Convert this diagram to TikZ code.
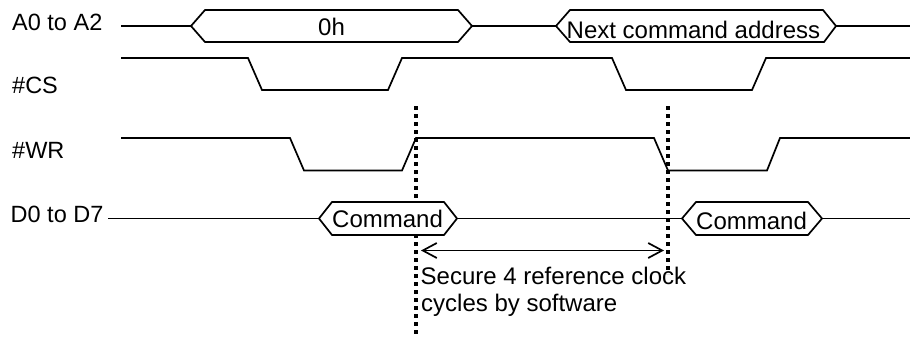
\documentclass[tikz,border=0pt]{standalone}
\usepackage{fontspec}
\setmainfont{Liberation Sans}
\usetikzlibrary{arrows.meta}
\tikzset{
  signal/.style={line width=1.7pt,line join=miter},
  busbox/.style={line width=1.7pt,fill=white},
  marker/.style={line width=4pt,dash pattern=on 4pt off 4pt},
  sigtext/.style={anchor=base west,inner sep=0pt,font=\fontsize{23.5pt}{28pt}\selectfont},
  bustext/.style={anchor=base west,inner sep=0pt,font=\fontsize{24pt}{28pt}\selectfont}
}
\begin{document}
\begin{tikzpicture}[x=1pt,y=-1pt]
        \useasboundingbox (0,0) rectangle (910,337);

        % timing markers
        \coordinate (markA top) at (416,106);
        \coordinate (markA bot) at (416,334);
        \coordinate (markB top) at (668,106);
        \coordinate (markB bot) at (668,274);
        \draw[marker] (markA top) -- (markA bot);
        \draw[marker] (markB top) -- (markB bot);

        % A0 to A2
        \draw[signal] (121,26) -- (191,26);
        \draw[signal] (472,26) -- (556,26);
        \draw[signal] (836,26) -- (910,26);
        \draw[busbox] (191,26) -- (205,10) -- (458,10) -- (472,26) -- (458,42) -- (205,42) -- cycle;
        \draw[busbox] (556,26) -- (570,10) -- (823,10) -- (836,26) -- (824,42) -- (570,42) -- cycle;

        % #CS
        \draw[signal] (121,58) -- (248,58) -- (262,90) -- (388,90) -- (402,58) -- (612,58)
          -- (626,90) -- (752,90) -- (766,58) -- (910,58);

        % #WR
        \draw[signal] (121,138) -- (290,138) -- (304,170.5) -- (402,170.5) -- (416,138) -- (654,138)
          -- (668,170.5) -- (767,170.5) -- (780,138) -- (910,138);

        % D0 to D7
        \draw[signal] (108,218.5) -- (910,218.5);
        \draw[busbox] (319,218.5) -- (332,202) -- (444,202) -- (457,218.5) -- (444,235) -- (332,235) -- cycle;
        \draw[busbox] (682,218.5) -- (696,202) -- (808,202) -- (822,218.5) -- (808,235) -- (696,235) -- cycle;

        % signal names
        \node[sigtext] (nameA) at (12,30.5) {A0 to A2};
        \node[sigtext] (nameCS) at (12,93) {\#CS};
        \node[sigtext] (nameWR) at (12,158) {\#WR};
        \node[sigtext] (nameD) at (10.5,222) {D0 to D7};

        % bus values
        \node[bustext] (addrA) at (318,35.5) {0h};
        \node[bustext] (addrB) at (566.5,39) {Next command address};
        \node[bustext] (cmdA) at (332,227.5) {Command};
        \node[bustext] (cmdB) at (696,229) {Command};

        % interval
        \coordinate (spanA) at (421,250.5);
        \coordinate (spanB) at (664,250.5);
        \draw[signal,{Straight Barb[length=14pt,width=15pt]}-{Straight Barb[length=14pt,width=15pt]}] (spanA) -- (spanB);
        \node[bustext] (noteA) at (420.5,284.5) {Secure 4 reference clock};
        \node[bustext] (noteB) at (421,311) {cycles by software};
      \end{tikzpicture}
\end{document}
